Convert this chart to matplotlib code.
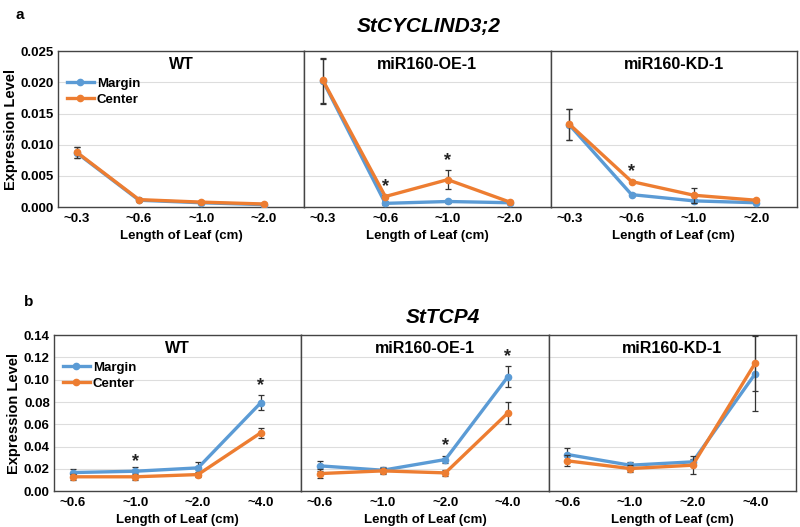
import matplotlib
matplotlib.use("Agg")
import matplotlib.pyplot as plt
from matplotlib.lines import Line2D
import numpy as np

plt.rcParams['font.family'] = ['Liberation Sans', 'DejaVu Sans']
plt.rcParams['font.weight'] = 'bold'

genotypes = ["WT", "miR160-OE-1", "miR160-KD-1"]

# Panel a: StCYCLIND3;2
a_cats = ["~0.3", "~0.6", "~1.0", "~2.0"]
a_margin = [[0.0087, 0.0011, 0.0007, 0.0004],
            [0.0202, 0.0006, 0.0009, 0.0007],
            [0.0132, 0.0020, 0.0010, 0.0007]]
a_margin_err = [[0.0009, 0.0002, 0.0002, 0.0002],
                [0.0036, 0.0003, 0.0003, 0.0001],
                [0.0025, 0.0002, 0.0003, 0.0001]]
a_center = [[0.0088, 0.0012, 0.0008, 0.0005],
            [0.0203, 0.0017, 0.0044, 0.0008],
            [0.0133, 0.0041, 0.0019, 0.0011]]
a_center_err = [[0.0009, 0.0002, 0.0002, 0.0002],
                [0.0036, 0.0003, 0.0015, 0.0001],
                [0.0025, 0.0002, 0.0012, 0.0002]]
a_stars = [[], [(1, 0.0017), (2, 0.0059)], [(1, 0.0041)]]

# Panel b: StTCP4
b_cats = ["~0.6", "~1.0", "~2.0", "~4.0"]
b_margin = [[0.0167, 0.0179, 0.0209, 0.0792],
            [0.0227, 0.0188, 0.0284, 0.1028],
            [0.0329, 0.0233, 0.0263, 0.1055]]
b_margin_err = [[0.0030, 0.0040, 0.0050, 0.0068],
                [0.0045, 0.0025, 0.0035, 0.0097],
                [0.0055, 0.0030, 0.0030, 0.0340]]
b_center = [[0.0129, 0.0129, 0.0149, 0.0523],
            [0.0158, 0.0182, 0.0164, 0.0703],
            [0.0272, 0.0203, 0.0233, 0.1151]]
b_center_err = [[0.0025, 0.0025, 0.0025, 0.0045],
                [0.0040, 0.0030, 0.0025, 0.0097],
                [0.0050, 0.0030, 0.0080, 0.0250]]
b_stars = [[(1, 0.0179), (3, 0.0860)], [(2, 0.0319), (3, 0.1125)], []]

BLUE = "#5B9BD5"
ORANGE = "#ED7D31"

fig = plt.figure(figsize=(8, 5.27), dpi=100)


def draw_row(left, right, bottom, top, cats, margin, merr, center, cerr, stars,
             ymax, yticks, yfmt, star_off):
    width = (right - left) / 3
    axes = []
    for i in range(3):
        ax = fig.add_axes([left + i * width, bottom, width, top - bottom])
        x = np.arange(len(cats))
        ax.errorbar(x, margin[i], yerr=merr[i], color=BLUE, lw=2.4,
                    marker='o', ms=4.5, ecolor='#333333', elinewidth=0.9,
                    capsize=2.5, capthick=0.9, zorder=3)
        ax.errorbar(x, center[i], yerr=cerr[i], color=ORANGE, lw=2.4,
                    marker='o', ms=4.5, ecolor='#333333', elinewidth=0.9,
                    capsize=2.5, capthick=0.9, zorder=4)
        for (xi, yv) in stars[i]:
            ax.text(xi, yv + star_off, "*", ha='center', va='bottom',
                    fontsize=13, fontweight='bold', color='#222222')
        ax.set_xlim(-0.3, 3.65)
        ax.set_ylim(0, ymax)
        ax.set_yticks(yticks)
        ax.yaxis.grid(True, color='#dddddd', lw=0.8)
        ax.set_axisbelow(True)
        ax.set_xticks(x)
        ax.set_xticklabels(cats, fontsize=9.5, fontweight='bold')
        ax.tick_params(axis='x', length=0, pad=4)
        ax.set_xlabel("Length of Leaf (cm)", fontsize=9.5, fontweight='bold',
                      labelpad=4)
        for s in ax.spines.values():
            s.set_color('#444444')
            s.set_linewidth(1.0)
        if i == 0:
            ax.set_yticklabels([yfmt.format(v) for v in yticks], fontsize=9.5,
                               fontweight='bold')
            ax.tick_params(axis='y', length=0, pad=3)
            ax.set_ylabel("Expression Level", fontsize=10.5, fontweight='bold',
                          labelpad=2)
            handles = [Line2D([], [], color=BLUE, lw=2.4, marker='o', ms=4.5),
                       Line2D([], [], color=ORANGE, lw=2.4, marker='o', ms=4.5)]
            leg = ax.legend(handles, ["Margin", "Center"], loc='upper left',
                            bbox_to_anchor=(0.0, 0.89), frameon=False,
                            fontsize=9.5, handlelength=2.0,
                            handletextpad=0.25, borderaxespad=0.3,
                            labelspacing=0.3)
            for t in leg.get_texts():
                t.set_fontweight('bold')
        else:
            ax.tick_params(axis='y', length=0, labelleft=False)
        ax.text(0.5, 0.96, genotypes[i], transform=ax.transAxes, ha='center',
                va='top', fontsize=11.5, fontweight='bold')
        axes.append(ax)
    return axes


draw_row(0.0725, 0.996, 0.607, 0.903, a_cats, a_margin, a_margin_err,
         a_center, a_center_err, a_stars, 0.025,
         [0, 0.005, 0.010, 0.015, 0.020, 0.025], "{:.3f}", 0.0002)
draw_row(0.0675, 0.995, 0.068, 0.364, b_cats, b_margin, b_margin_err,
         b_center, b_center_err, b_stars, 0.14,
         [0, 0.02, 0.04, 0.06, 0.08, 0.10, 0.12, 0.14], "{:.2f}", 0.001)

fig.text(0.02, 0.985, "a", fontsize=11, fontweight='bold', va='top')
fig.text(0.03, 0.44, "b", fontsize=11, fontweight='bold', va='top')
fig.text(0.536, 0.949, "StCYCLIND3;2", fontsize=15, fontweight='bold',
         style='italic', ha='center', va='center')
fig.text(0.553, 0.398, "StTCP4", fontsize=15, fontweight='bold',
         style='italic', ha='center', va='center')

fig.savefig("out.png", dpi=100)
